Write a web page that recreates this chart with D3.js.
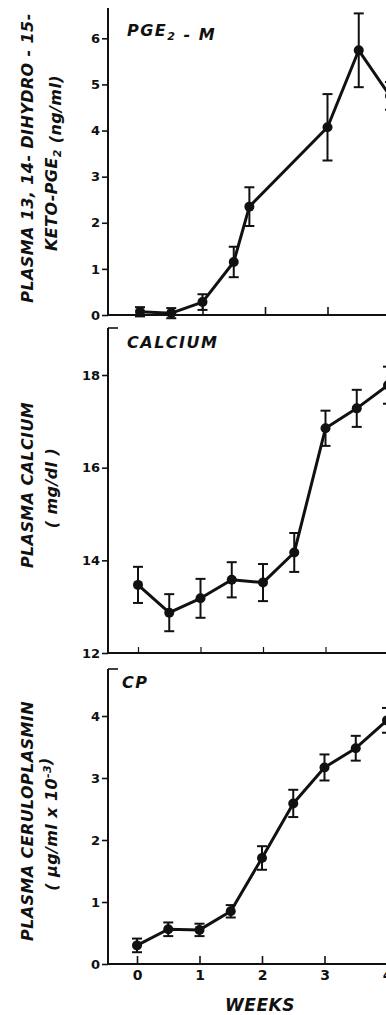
<!DOCTYPE html>
<html>
<head>
<meta charset="utf-8">
<script src="https://cdn.jsdelivr.net/npm/d3@7"></script>
<style>
  body { margin: 0; background: #fff; }
  svg { display: block; }
  text { font-family: "DejaVu Sans", sans-serif; fill: #111; }
</style>
</head>
<body>
<svg id="chart" width="386" height="1015"></svg>
<script>
// sampling times (weeks)
const weeks    = [0, 0.5, 1, 1.5, 2, 2.5, 3, 3.5, 4];
const pgeWeeks = [0, 0.5, 1, 1.5, 1.75, 3, 3.5, 4];

// PGE2-M (ng/ml)
const pgeMean = [0.07, 0.04, 0.28, 1.15, 2.35, 4.07, 5.74, 4.75];
const pgeErr  = [0.10, 0.11, 0.17, 0.33, 0.42, 0.72, 0.80, 0.30];

// calcium (mg/dl)
const caMean = [13.47, 12.87, 13.18, 13.58, 13.52, 14.17, 16.85, 17.28, 17.78];
const caErr  = [0.39, 0.40, 0.42, 0.38, 0.40, 0.42, 0.38, 0.40, 0.40];

// ceruloplasmin (ug/ml x 10^-3)
const cpMean = [0.30, 0.56, 0.55, 0.85, 1.71, 2.59, 3.17, 3.48, 3.93];
const cpErr  = [0.11, 0.11, 0.10, 0.10, 0.19, 0.22, 0.21, 0.20, 0.20];

const weekTicks = [0, 1, 2, 3, 4];
const pgeTicks  = [0, 1, 2, 3, 4, 5, 6];
const caTicks   = [12, 14, 16, 18];
const cpTicks   = [0, 1, 2, 3, 4];

const svg = d3.select('#chart');
const axisX = 108, rightX = 386;

const panels = [
  { x0: 140, top: 8, yDomain: [0, 6], yRange: [315, 38.3],
    xs: pgeWeeks, mean: pgeMean, err: pgeErr, ticks: pgeTicks,
    title: [{ t: 'PGE' }, { t: '2', sub: true }, { t: ' - M' }], titleX: 127, titleY: 36,
    ylab: [
      { segs: [{ t: 'PLASMA 13, 14- DIHYDRO - 15-' }], x: 33, y: 158 },
      { segs: [{ t: 'KETO-PGE' }, { t: '2', sub: true }, { t: ' (ng/ml)' }], x: 57, y: 163 }
    ], bracket: false, xLabels: false, thinTicks: false },
  { x0: 138, top: 328, yDomain: [12, 18], yRange: [653, 375],
    xs: weeks, mean: caMean, err: caErr, ticks: caTicks,
    title: [{ t: 'CALCIUM' }], titleX: 127, titleY: 348,
    ylab: [
      { segs: [{ t: 'PLASMA  CALCIUM' }], x: 33, y: 485 },
      { segs: [{ t: '( mg/dl )' }], x: 57, y: 488 }
    ], bracket: true, xLabels: false, thinTicks: true },
  { x0: 137, top: 669, yDomain: [0, 4], yRange: [964, 716],
    xs: weeks, mean: cpMean, err: cpErr, ticks: cpTicks,
    title: [{ t: 'CP' }], titleX: 122, titleY: 688,
    ylab: [
      { segs: [{ t: 'PLASMA  CERULOPLASMIN' }], x: 33, y: 821 },
      { segs: [{ t: '( \u03bcg/ml x 10' }, { t: '-3', sup: true }, { t: ')' }], x: 57, y: 824 }
    ], bracket: true, xLabels: true, thinTicks: false }
];

function addSegs(text, segs, small) {
  segs.forEach(s => {
    const ts = text.append('tspan').text(s.t);
    if (s.sub) ts.attr('dy', 4).attr('font-size', small);
    else if (s.sup) ts.attr('dy', -6).attr('font-size', small);
    // move back to baseline after sub/sup
    if (s.sub) text.append('tspan').attr('dy', -4).text('');
    if (s.sup) text.append('tspan').attr('dy', 6).text('');
  });
}

panels.forEach(p => {
  const x = d3.scaleLinear().domain([0, 4]).range([p.x0, p.x0 + 250]);
  const y = d3.scaleLinear().domain(p.yDomain).range(p.yRange);
  const base = p.yRange[0];
  const g = svg.append('g');

  // y axis
  const ya = g.append('g').attr('transform', `translate(${axisX},0)`)
    .call(d3.axisLeft(y).tickValues(p.ticks).tickSize(6).tickPadding(2).tickFormat(d3.format('d')));
  ya.select('.domain').remove();
  ya.selectAll('line').attr('stroke', '#111').attr('stroke-width', 1.6);
  ya.selectAll('text').attr('font-size', 13).attr('font-weight', 'bold').attr('fill', '#111');

  g.append('line').attr('x1', axisX).attr('x2', axisX).attr('y1', p.top).attr('y2', base)
    .attr('stroke', '#111').attr('stroke-width', 2);
  if (p.bracket) {
    g.append('line').attr('x1', axisX).attr('x2', axisX + 10).attr('y1', p.top).attr('y2', p.top)
      .attr('stroke', '#111').attr('stroke-width', 1.6);
  }

  // x axis (ticks point up into the plot)
  const xa = g.append('g').attr('transform', `translate(0,${base})`)
    .call(d3.axisBottom(x).tickValues(weekTicks).tickSizeInner(p.thinTicks ? -6 : -8).tickSizeOuter(0).tickPadding(6)
      .tickFormat(p.xLabels ? d3.format('d') : ''));
  xa.select('.domain').remove();
  xa.selectAll('line').attr('stroke', '#111').attr('stroke-width', p.thinTicks ? 1.2 : 1.6);
  xa.selectAll('text').attr('font-size', 14).attr('font-weight', 'bold').attr('fill', '#111');
  g.append('line').attr('x1', axisX).attr('x2', rightX).attr('y1', base).attr('y2', base)
    .attr('stroke', '#111').attr('stroke-width', 2);

  // panel title
  const tt = g.append('text').attr('x', p.titleX).attr('y', p.titleY)
    .attr('font-size', 16).attr('font-weight', 'bold').attr('font-style', 'italic')
    .attr('letter-spacing', 1.5);
  addSegs(tt, p.title, 11);

  // y axis title
  p.ylab.forEach(l => {
    const t = g.append('text')
      .attr('transform', `translate(${l.x},${l.y}) rotate(-90)`)
      .attr('text-anchor', 'middle')
      .attr('font-size', 16).attr('font-weight', 'bold').attr('font-style', 'italic')
      .attr('letter-spacing', 0.4);
    addSegs(t, l.segs, 11);
  });

  const pts = p.xs.map((w, i) => ({ w, m: p.mean[i], e: p.err[i] }));

  // error bars
  const eb = g.append('g').attr('stroke', '#111').attr('stroke-width', 2);
  pts.forEach(d => {
    const cx = x(d.w);
    eb.append('line').attr('x1', cx).attr('x2', cx).attr('y1', y(d.m - d.e)).attr('y2', y(d.m + d.e));
    eb.append('line').attr('x1', cx - 5).attr('x2', cx + 5).attr('y1', y(d.m - d.e)).attr('y2', y(d.m - d.e));
    eb.append('line').attr('x1', cx - 5).attr('x2', cx + 5).attr('y1', y(d.m + d.e)).attr('y2', y(d.m + d.e));
  });

  // line + markers
  const line = d3.line().x(d => x(d.w)).y(d => y(d.m));
  g.append('path').datum(pts).attr('d', line)
    .attr('fill', 'none').attr('stroke', '#111').attr('stroke-width', 3).attr('stroke-linejoin', 'round');
  g.selectAll('circle.pt').data(pts).enter().append('circle')
    .attr('class', 'pt').attr('cx', d => x(d.w)).attr('cy', d => y(d.m)).attr('r', 5).attr('fill', '#111');
});

// x axis title
svg.append('text').attr('x', 260).attr('y', 1011).attr('text-anchor', 'middle')
  .attr('font-size', 17).attr('font-weight', 'bold').attr('font-style', 'italic')
  .attr('letter-spacing', 0.5).text('WEEKS');
</script>
</body>
</html>
